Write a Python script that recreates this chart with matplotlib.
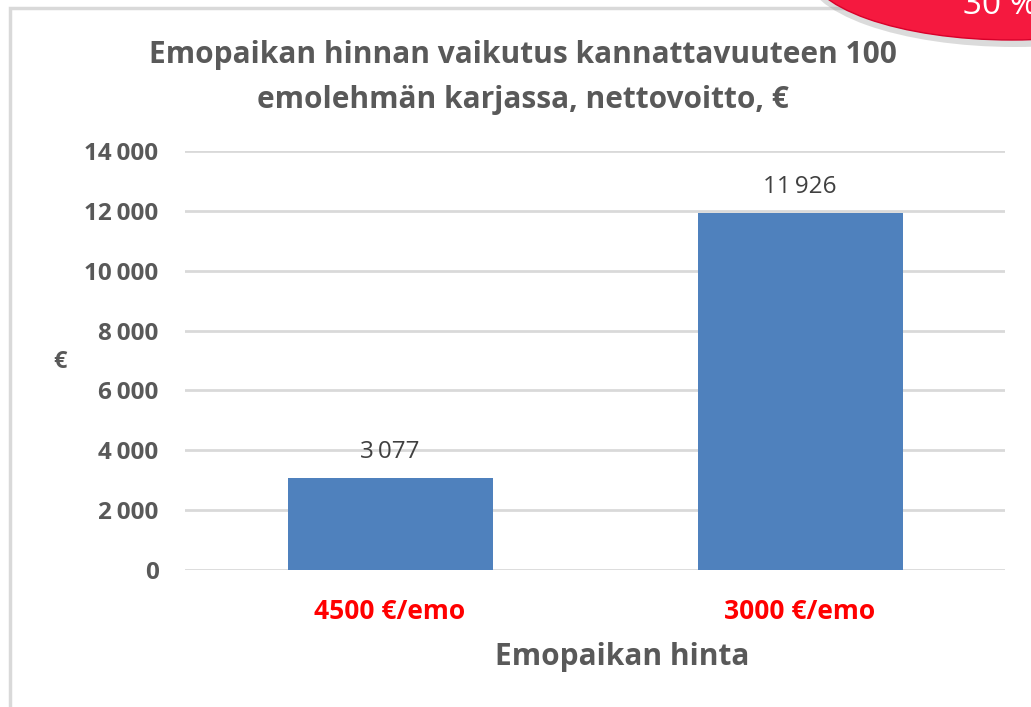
import matplotlib.pyplot as plt
from matplotlib.patches import Ellipse, Rectangle
from matplotlib.ticker import FuncFormatter

categories = ['4500 €/emo', '3000 €/emo']
values = [3077, 11926]
yticks = [0, 2000, 4000, 6000, 8000, 10000, 12000, 14000]

grey = '#595959'
bar_color = '#4f81bd'

plt.rcParams['font.family'] = ['Open Sans', 'DejaVu Sans']

fig = plt.figure(figsize=(10.31, 7.07), dpi=100)
W, H = 1031, 707

# outer chart frame (grey border on left/top)
fig.patches.append(Rectangle((10 / W, -0.1), 1.2, (H - 8) / H + 0.1,
                             transform=fig.transFigure, fill=False,
                             edgecolor='#d9d9d9', linewidth=2.5))

ax = fig.add_axes([185 / W, (H - 570) / H, 820 / W, 419 / H])
x = range(len(categories))
bars = ax.bar(x, values, width=0.5, color=bar_color, zorder=3)
ax.set_xlim(-0.5, 1.5)
ax.set_ylim(0, 14000)
ax.set_yticks(yticks)
ax.yaxis.set_major_formatter(FuncFormatter(lambda v, p: f'{int(v):,}'.replace(',', '\u2009')))
ax.grid(axis='y', color='#d9d9d9', linewidth=2, zorder=0)
for s in ax.spines.values():
    s.set_visible(False)
ax.tick_params(axis='y', length=0, pad=19, labelsize=17.5, labelcolor=grey)
for lbl in ax.get_yticklabels():
    lbl.set_fontweight('bold')
ax.tick_params(axis='x', length=0, pad=20)
ax.set_xticks(list(x))
ax.set_xticklabels(categories, color='#ff0000', fontsize=19, fontweight='bold')

for b, v in zip(bars, values):
    ax.annotate(f'{v:,}'.replace(',', '\u2009'), (b.get_x() + b.get_width() / 2, v),
                xytext=(0, 10), textcoords='offset points', ha='center', va='bottom',
                fontsize=17.5, color='#404040')

# axis titles placed like in the original (x title sits right of centre)
fig.text(622 / W, 1 - 657 / H, 'Emopaikan hinta', fontsize=21.5, fontweight='bold',
         color=grey, ha='center', va='center')
fig.text(60 / W, 1 - 362 / H, '€', fontsize=17, fontweight='bold', color=grey,
         ha='center', va='center')

fig.text(523 / W, 1 - 55 / H, 'Emopaikan hinnan vaikutus kannattavuuteen 100',
         fontsize=21.5, fontweight='bold', color=grey, ha='center', va='center')
fig.text(523 / W, 1 - 100 / H, 'emolehmän karjassa, nettovoitto, €',
         fontsize=21.5, fontweight='bold', color=grey, ha='center', va='center')

# red callout cut off at the top right corner
shadow = Ellipse((1015 / W, 1 - (-28) / H), 420 / W, 150 / H, transform=fig.transFigure,
                 facecolor='#999999', alpha=0.35, edgecolor='none')
fig.patches.append(shadow)
oval = Ellipse((1012 / W, 1 - (-33) / H), 410 / W, 146 / H, transform=fig.transFigure,
               facecolor='#f5193f', edgecolor='#d8002a', linewidth=1)
fig.patches.append(oval)
fig.text(1000 / W, 1 - 6 / H, '30 %', fontsize=24, color='white', ha='center',
         va='center')

fig.savefig('out.png', dpi=100)
